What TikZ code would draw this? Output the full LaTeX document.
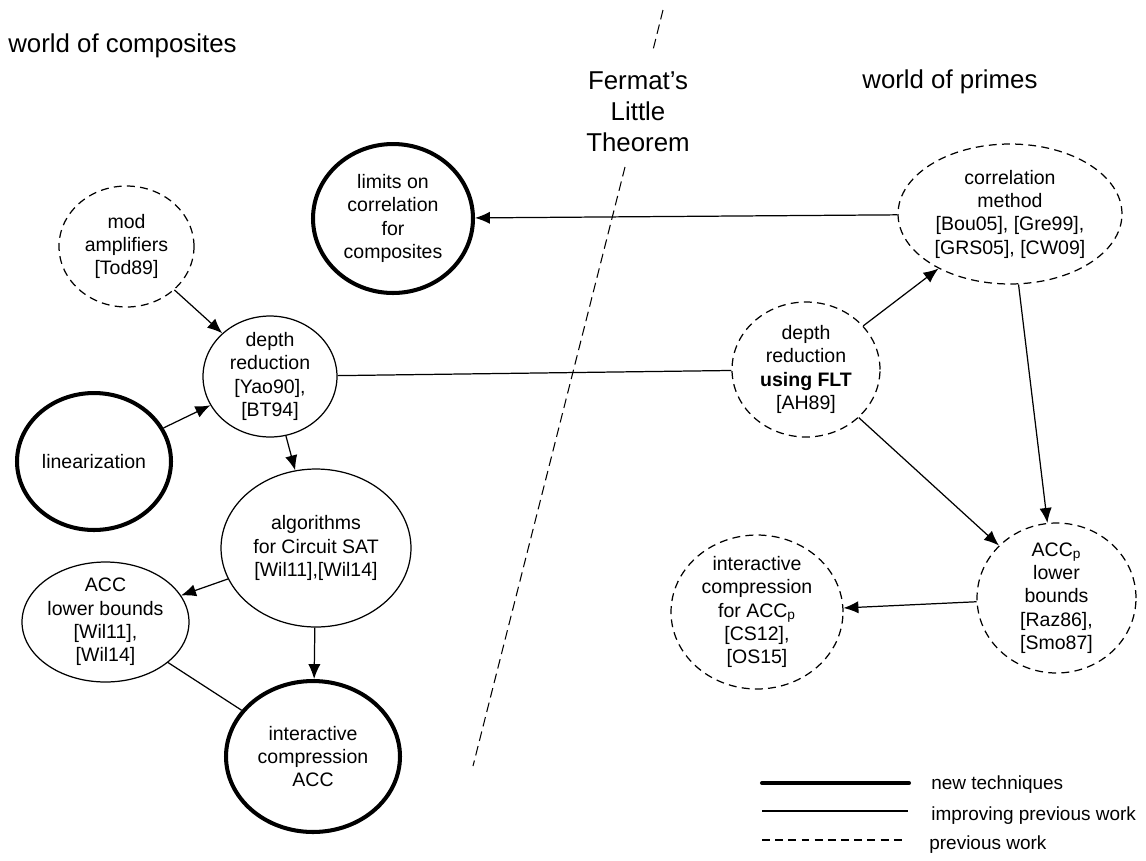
\documentclass[tikz,border=0pt]{standalone}
\usepackage{fontspec}
\setmainfont{Liberation Sans}
\usetikzlibrary{shapes.geometric,arrows.meta}

\begin{document}
\begin{tikzpicture}[x=0.02cm,y=-0.02cm,
  every node/.style={inner sep=0pt},
  txt/.style={align=center,font=\fontsize{11.1}{13.3}\selectfont},
  heading/.style={align=center,font=\fontsize{14.7}{17.7}\selectfont},
  legendtext/.style={anchor=base west,font=\fontsize{10.8}{13}\selectfont},
  bubble/.style={ellipse,draw,inner sep=0pt,line width=0.7pt},
  newtech/.style={bubble,line width=2.3pt},
  improving/.style={bubble},
  previous/.style={bubble,dash pattern=on 4.5pt off 3pt},
  link/.style={line width=0.7pt},
  arrow/.style={link,-{Latex[length=8.5pt,width=7pt]}},
  divider/.style={line width=0.6pt,dash pattern=on 5.5pt off 3pt}
]
\useasboundingbox (0,0) rectangle (1146,860);

% headings
\node[heading,anchor=base west] (wc) at (8,52) {world of composites};
\node[heading,anchor=base west] (wp) at (862,88) {world of primes};
\node[heading] (flt-title) at (638,112) {Fermat’s\\Little\\Theorem};

% dividing line, interrupted by the title
\coordinate (d1) at (663,10);
\coordinate (d2) at (653,50);
\coordinate (d3) at (625,167);
\coordinate (d4) at (473,766);
\draw[divider] (d1) -- (d2);
\draw[divider] (d3) -- (d4);

% world of composites
\node[previous,minimum width=2.70cm,minimum height=2.42cm] (mod) at (126.5,246.5) {};
\node[txt] (mod-t) at (mod) {mod\\amplifiers\\{[Tod89]}};

\node[newtech,minimum width=3.20cm,minimum height=2.98cm] (limits) at (393,218.5) {};
\node[txt] (limits-t) at (limits) {limits on\\correlation\\for\\composites};

\node[improving,minimum width=2.68cm,minimum height=2.42cm] (depth) at (270,376.5) {};
\node[txt] (depth-t) at (depth) {depth\\reduction\\{[Yao90],}\\{[BT94]}};

\node[newtech,minimum width=3.08cm,minimum height=2.74cm] (lin) at (94,461.5) {};
\node[txt] (lin-t) at (lin) {linearization};

\node[improving,minimum width=3.80cm,minimum height=3.16cm] (alg) at (316,548) {};
\node[txt] (alg-t) at (alg) {algorithms\\for Circuit SAT\\{[Wil11],[Wil14]}};

\node[improving,minimum width=3.34cm,minimum height=2.40cm] (accl) at (105.5,622) {};
\node[txt] (accl-t) at (accl) {ACC\\lower bounds\\{[Wil11],}\\{[Wil14]}};

\node[newtech,minimum width=3.48cm,minimum height=3.02cm] (iacc) at (313,756.5) {};
\node[txt] (iacc-t) at (iacc) {interactive\\compression\\ACC};

% world of primes
\node[previous,minimum width=4.48cm,minimum height=2.80cm] (corr) at (1010,214) {};
\node[txt] (corr-t) at (corr) {correlation\\method\\{[Bou05], [Gre99],}\\{[GRS05], [CW09]}};

\node[previous,minimum width=2.96cm,minimum height=2.70cm] (flt) at (806,369.5) {};
\node[txt] (flt-t) at (flt) {depth\\reduction\\\textbf{using FLT}\\{[AH89]}};

\node[previous,minimum width=3.18cm,minimum height=3.00cm] (accp) at (1056.5,598) {};
\node[txt] (accp-t) at (accp) {ACC\textsubscript{p}\\lower\\bounds\\{[Raz86],}\\{[Smo87]}};

\node[previous,minimum width=3.44cm,minimum height=3.08cm] (iaccp) at (757,612) {};
\node[txt] (iaccp-t) at (iaccp) {interactive\\compression\\for ACC\textsubscript{p}\\{[CS12],}\\{[OS15]}};

% connectors
\draw[arrow] (mod) -- (depth);
\draw[arrow] (lin) -- (depth);
\draw[arrow] (depth) -- (alg);
\draw[arrow] (alg) -- (accl);
\draw[arrow] (alg) -- (iacc);
\draw[link] (accl) -- (iacc);
\draw[link] (depth) -- (flt);
\draw[arrow] (flt) -- (corr);
\draw[arrow] (flt) -- (accp);
\draw[arrow] (corr) -- (accp);
\draw[arrow] (corr) -- (limits);
\draw[arrow] (accp) -- (iaccp);

% legend
\coordinate (l1a) at (762,783);
\coordinate (l1b) at (909,783);
\coordinate (l2a) at (762,811);
\coordinate (l2b) at (908,811);
\coordinate (l3a) at (762,840);
\coordinate (l3b) at (905,840);
\draw[line width=2.3pt,line cap=round] (l1a) -- (l1b);
\draw[link] (l2a) -- (l2b);
\draw[link,dash pattern=on 4.5pt off 3pt] (l3a) -- (l3b);
\node[legendtext] (l1t) at (931,789) {new techniques};
\node[legendtext] (l2t) at (931,820) {improving previous work};
\node[legendtext] (l3t) at (929,849) {previous work};
\end{tikzpicture}
\end{document}
